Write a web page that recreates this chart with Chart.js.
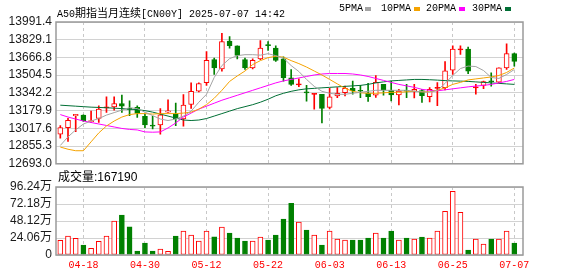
<!DOCTYPE html>
<html><head><meta charset="utf-8">
<script src="https://cdn.jsdelivr.net/npm/chart.js@4.4.1/dist/chart.umd.min.js"></script>
<style>
html,body{margin:0;padding:0;background:#fff}
body{width:578px;height:276px;position:relative;overflow:hidden}
canvas{position:absolute;left:0}
#c1{top:0}
#c2{top:165px}
.t{position:absolute;white-space:nowrap;color:#000}
.m{font:10px/12px 'Liberation Mono',monospace}
.c{font:11px/12px 'Noto Sans CJK SC',sans-serif}
.sq{position:absolute;width:6px;height:4px}
</style></head><body>
<canvas id="c1" width="578" height="175" style="width:578px;height:175px"></canvas>
<canvas id="c2" width="578" height="111" style="width:578px;height:111px"></canvas>
<div class="t" style="left:57px;top:3px"><span class="m">A50</span><span class="c">期指当月连续</span><span class="m">[CN00Y] 2025-07-07 14:42</span></div>
<div id="legend"></div>
<div class="t" id="vl" style="left:58px;top:171px;font:12px/13px 'Liberation Sans','Noto Sans CJK SC',sans-serif"></div>
<script>
const dates=['04-15','04-16','04-17','04-18','04-21','04-22','04-23','04-24','04-25','04-28',
'04-29','04-30','05-01','05-02','05-05','05-06','05-07','05-08','05-09','05-12',
'05-13','05-14','05-15','05-16','05-19','05-20','05-21','05-22','05-23','05-26',
'05-27','05-28','05-29','05-30','06-02','06-03','06-04','06-05','06-06','06-09',
'06-10','06-11','06-12','06-13','06-16','06-17','06-18','06-19','06-20','06-23',
'06-24','06-25','06-26','06-27','06-30','07-01','07-02','07-03','07-04','07-07'];
const labelIdx=[3,11,19,27,35,43,51,59];
const opens=[12964.0,13024.4,13133.2,13139.3,13078.8,13109.2,13205,13214.4,13245.2,13196,
13209.0,13127.2,13048.6,13048.6,13166.5,13148.3,13103.0,13236.0,13356.9,13435.4,
13647.0,13562.3,13816.2,13773.9,13647.0,13571.6,13653.2,13778,13753.0,13653.2,
13481.0,13416,13347,13328,13329.5,13209,13314,13344.9,13384,13361,
13338.6,13320.5,13420.2,13365.8,13323.2,13361,13356.7,13363,13308.6,13383,
13390.3,13549.9,13736,13743.9,13388,13411.2,13448,13441,13571.6,13701.3];
const highs=[13042.6,13109.0,13145.3,13142.3,13175.5,13223.5,13305.1,13305.1,13323.2,13268.8,
13223.5,13148.3,13127.2,13199.7,13278.3,13248.1,13326.6,13435.4,13435.4,13719.5,
13662.1,13888.7,13858.5,13773.9,13662.1,13653.2,13821.9,13812.8,13773.8,13671.4,
13556.2,13471.9,13411,13335.9,13329.5,13383.9,13390.3,13404.8,13450,13411,
13429.3,13501.8,13420.2,13450.1,13374.9,13420,13420.2,13374.9,13390.3,13436,
13628.7,13773.8,13773.8,13762,13420.2,13450.1,13526.3,13571.6,13792,13707.6];
const lows=[12927.7,12897.5,12988.2,13081.9,13069.8,13073.0,13163.6,13184.5,13163.6,13132.8,
13118.3,13024.4,13012.3,12964.0,13163.4,13042.6,13036.5,13199.7,13350.8,13411.2,
13511.0,13541.2,13752.7,13653.0,13556.3,13562.6,13646.9,13731.2,13631.5,13450.1,
13411.2,13399.3,13266,13193.5,13066.6,13196,13299.6,13314,13329.5,13299.6,
13263.3,13300,13320.5,13268.8,13232,13299.6,13296,13254.3,13259.7,13225,
13368.5,13510.9,13695,13517.2,13329.5,13381.2,13404.8,13435.6,13556.2,13586.1];
const closes=[13024.4,13090.9,13145.3,13087.9,13087.9,13193.5,13212,13245.2,13220.7,13191,
13154.5,13048.6,13036.5,13142.3,13178.5,13103.0,13230.0,13356.9,13426.4,13640.9,
13571.4,13813.2,13773.9,13686.2,13571.4,13640.5,13753.0,13775,13640.5,13481.0,
13420.2,13422,13343,13331,13200,13305.1,13338.6,13384,13359.5,13357,
13308.6,13438.3,13368.5,13323.2,13359.5,13357,13374.9,13317.7,13374.9,13387,
13544.4,13743.9,13740,13540.8,13392,13444.8,13444,13571.6,13701.3,13631.5];
const volumes=[206600,267600,234700,140800,93900,192500,267600,478900,563400,399000,
56300,169000,56300,84500,51600,267600,338000,281700,197200,338000,
258200,394400,309900,239400,197200,197200,253500,211300,281700,507000,
732400,464800,352100,281700,140800,338000,225300,211300,211300,211300,
239400,309900,239400,338000,211300,239400,225300,253500,239400,338000,
619700,901400,605600,70400,225300,154900,225300,225300,338000,167190];
const ma5=[12860.8,12939.7,13003.1,13057.5,13084.7,13107.4,13139.1,13161.8,13184.5,13207.1,
13198.1,13166.3,13134.6,13102.9,13089.3,13102.9,13130.1,13175.4,13257.0,13329.5,
13483.7,13592.5,13655.9,13683.1,13692.2,13692.2,13687.7,13701.3,13683.1,13660.5,
13592.5,13538.1,13465.5,13402.1,13356.7,13338.6,13329.5,13329.5,13338.6,13347.7,
13356.7,13365.8,13365.8,13365.8,13365.8,13365.8,13356.7,13352.2,13347.7,13365.8,
13429.3,13501.8,13565.3,13587.9,13583.4,13547.1,13483.7,13474.6,13510.9,13556.2];
const ma10=[12846.3,12826.3,12812.7,12812.7,12894.3,12975.9,13039.4,13084.7,13121.0,13143.7,
13152.7,13152.7,13148.2,13152.7,13152.7,13152.7,13157.3,13166.3,13193.5,13234.3,
13293.3,13365.8,13447.4,13497.3,13542.6,13601.5,13637.8,13665.0,13676.8,13669.5,
13637.8,13610.6,13578.9,13542.6,13506.3,13465.5,13424.7,13383.9,13356.7,13343.1,
13338.6,13338.6,13343.1,13347.7,13347.7,13352.2,13356.7,13352.2,13352.2,13365.8,
13388.5,13420.2,13438.3,13461.0,13470.1,13479.1,13488.2,13501.8,13529.0,13569.8];
const ma20=[13143.7,13121.0,13102.9,13084.7,13071.1,13057.5,13043.9,13030.3,13016.7,13007.7,
13003.1,12985.0,12982.3,12985.0,13021.3,13066.6,13121.0,13157.3,13193.5,13220.7,
13247.9,13275.1,13297.8,13320.5,13343.1,13365.8,13388.5,13411.1,13433.8,13451.9,
13465.5,13479.1,13492.7,13506.3,13515.4,13519.9,13519.9,13519.9,13515.4,13506.3,
13492.7,13474.6,13456.5,13438.3,13420.2,13406.6,13393.0,13374.9,13365.8,13361.3,
13370.3,13379.4,13388.5,13397.5,13404.8,13411.1,13420.2,13433.8,13447.4,13465.5];
const ma30=[13229.8,13225.3,13220.7,13216.2,13211.7,13209.0,13206.2,13202.6,13198.1,13193.5,
13189.0,13179.9,13166.3,13148.2,13130.1,13111.9,13093.8,13089.3,13093.8,13107.4,
13130.1,13152.7,13175.4,13198.1,13216.2,13234.3,13257.0,13284.2,13315.9,13338.6,
13356.7,13370.3,13379.4,13383.9,13388.5,13393.0,13397.5,13402.1,13406.6,13411.1,
13420.2,13433.8,13442.9,13451.9,13456.5,13461.0,13465.5,13465.5,13462.8,13459.2,
13454.7,13451.9,13450.1,13447.4,13442.9,13438.3,13433.8,13429.3,13424.7,13420.2];
const priceTicks=[12693.0,12855.3,13017.6,13179.9,13342.2,13504.5,13666.8,13829.1,13991.4];
const volTicks=[0,240600,481200,721800,962400];
const maNames=['5PMA','10PMA','20PMA','30PMA'];

const RED='#ff0000',GREEN='#008000';
const maColors=['#a4a4a4','#f5a300','#ff00ff','#006f35'];
const idx=dates.map((d,i)=>i);
const up=idx.map(i=>closes[i]>=opens[i]);
const PLOT_LEFT=56, PLOT_RIGHT=523;

(function(){
  const lg=document.getElementById('legend');
  const tx=[339,381,426,472], sx=[365,414,459,505];
  maNames.forEach((n,k)=>{
    const d=document.createElement('div');d.className='t m';d.style.left=tx[k]+'px';d.style.top='3px';d.textContent=n;lg.appendChild(d);
    const s=document.createElement('div');s.className='sq';s.style.left=sx[k]+'px';s.style.top='7px';s.style.background=maColors[k];lg.appendChild(s);
  });
  document.getElementById('vl').textContent='成交量:'+volumes[volumes.length-1];
})();

const frame={id:'frame',afterDraw(ch){const a=ch.chartArea,c=ch.ctx;c.save();c.strokeStyle='#9a9a9a';c.lineWidth=1.5;
  c.strokeRect(a.left,a.top,a.right-a.left,a.bottom-a.top);c.restore();}};

function xAxis(show){return{type:'linear',min:-0.56,max:60.13,offset:false,
  afterBuildTicks:s=>{s.ticks=labelIdx.map(v=>({value:v}));},
  afterFit:s=>{s.height=show?21:0;},
  ticks:{display:show,autoSkip:false,maxRotation:0,color:RED,padding:4,
    font:{family:"'Liberation Mono', monospace",size:10},callback:v=>dates[v]},
  grid:{color:'#c8c8c8',lineWidth:1,drawTicks:false,offset:false},
  border:{display:false,dash:[3,3]}};}
function yAxis(ticks,fmt){return{min:ticks[0],max:ticks[ticks.length-1],
  afterBuildTicks:s=>{s.ticks=ticks.map(v=>({value:v}));},
  afterFit:s=>{s.width=PLOT_LEFT;},
  ticks:{autoSkip:false,color:'#1a1a1a',padding:4,font:{family:"'Liberation Sans', 'Noto Sans CJK SC', sans-serif",size:12},callback:fmt},
  grid:{color:'#d2d2d2',lineWidth:1,drawTicks:false},
  border:{display:false}};}
const common={responsive:false,animation:false,devicePixelRatio:1,
  plugins:{legend:{display:false},tooltip:{enabled:false}}};

const maSets=[ma30,ma20,ma10,ma5].map((arr,k)=>({type:'line',order:3-k,
  data:idx.map(i=>({x:i,y:arr[i]})),borderColor:maColors[3-k],borderWidth:1,pointRadius:0,tension:0}));

const ch1=new Chart(document.getElementById('c1'),{type:'bar',
  data:{datasets:[
    {type:'bar',order:10,data:idx.map(i=>({x:i,y:[lows[i],highs[i]]})),
      backgroundColor:idx.map(i=>up[i]?RED:GREEN),barThickness:1,grouped:false},
    {type:'bar',order:9,data:idx.map(i=>({x:i,y:[opens[i],closes[i]]})),
      backgroundColor:idx.map(i=>up[i]?(Math.abs(closes[i]-opens[i])<8?RED:'#ffffff'):GREEN),
      borderColor:idx.map(i=>up[i]?RED:GREEN),borderWidth:1,borderSkipped:false,
      barThickness:5,grouped:false,minBarLength:1},
    ...maSets]},
  options:Object.assign({},common,{layout:{padding:{left:0,right:578-PLOT_RIGHT,top:22,bottom:10}},
    scales:{x:xAxis(false),y:yAxis(priceTicks,v=>v.toFixed(1))}}),
  plugins:[frame]});

const ch2=new Chart(document.getElementById('c2'),{type:'bar',
  data:{datasets:[{data:idx.map(i=>({x:i,y:volumes[i]})),
    backgroundColor:idx.map(i=>up[i]?'#ffffff':GREEN),borderColor:idx.map(i=>up[i]?RED:GREEN),
    borderWidth:1,borderSkipped:false,barThickness:5,grouped:false}]},
  options:Object.assign({},common,{layout:{padding:{left:0,right:578-PLOT_RIGHT,top:22,bottom:0}},
    scales:{x:xAxis(true),y:yAxis(volTicks,v=>v===0?'0':(v/10000).toFixed(2)+'万')}}),
  plugins:[frame]});

[ch1,ch2].forEach(ch=>{
  const d=ch.chartArea.left-PLOT_LEFT;
  if(Math.abs(d)>0.5){ch.options.layout.padding.left=-d;ch.update();}
});
</script>
</body></html>
